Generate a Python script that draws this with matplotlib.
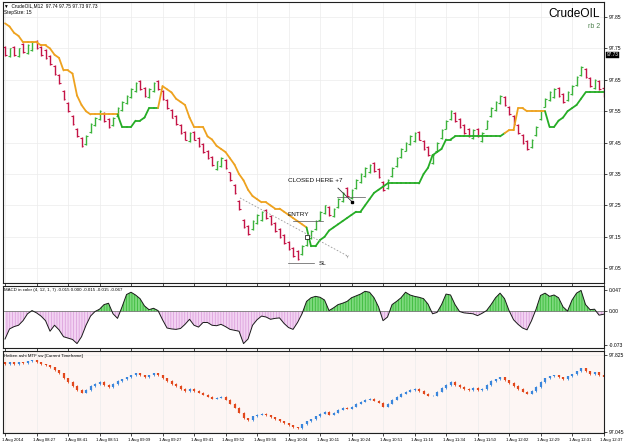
import matplotlib
matplotlib.use('Agg')
import matplotlib.pyplot as plt
from matplotlib.collections import LineCollection
from matplotlib.transforms import ScaledTranslation, blended_transform_factory

plt.rcParams['font.family'] = ['Liberation Sans', 'DejaVu Sans']

# ---------------- data ----------------
open0 = 97.75
closes = [
    97.73, 97.75, 97.73, 97.75, 97.74, 97.76, 97.77, 97.75, 97.73, 97.72,
    97.70, 97.67, 97.64, 97.59, 97.55, 97.51, 97.47, 97.44, 97.47, 97.51,
    97.53, 97.55, 97.52, 97.50, 97.53, 97.56, 97.58, 97.60, 97.62, 97.64,
    97.62, 97.60, 97.62, 97.64, 97.62, 97.59, 97.56, 97.53, 97.51, 97.48,
    97.46, 97.48, 97.46, 97.44, 97.42, 97.40, 97.38, 97.39, 97.40, 97.37,
    97.33, 97.29, 97.24, 97.18, 97.16, 97.20, 97.22, 97.23, 97.21, 97.19,
    97.17, 97.15, 97.13, 97.11, 97.09, 97.08, 97.12, 97.15, 97.17, 97.20,
    97.23, 97.25, 97.22, 97.24, 97.27, 97.29, 97.28, 97.30, 97.33, 97.35,
    97.37, 97.38, 97.36, 97.34, 97.30, 97.33, 97.37, 97.40, 97.43, 97.45,
    97.47, 97.48, 97.46, 97.43, 97.41, 97.41, 97.45, 97.49, 97.52, 97.55,
    97.52, 97.50, 97.48, 97.47, 97.49, 97.47, 97.48, 97.52, 97.56, 97.58,
    97.60, 97.57, 97.54, 97.51, 97.48, 97.45, 97.43, 97.46, 97.50, 97.55,
    97.59, 97.61, 97.62, 97.60, 97.58, 97.61, 97.63, 97.66, 97.69, 97.66,
    97.63, 97.65, 97.62, 97.60]

stop_line = [
    97.83, 97.82, 97.80, 97.79, 97.77, 97.77, 97.77, 97.77, 97.76, 97.76,
    97.75, 97.73, 97.72, 97.68, 97.68, 97.67, 97.60, 97.57, 97.55, 97.54,
    97.54, 97.54, 97.54, 97.54, 97.54, 97.54, 97.50, 97.50, 97.50, 97.52,
    97.52, 97.53, 97.56, 97.56, 97.56, 97.63, 97.62, 97.61, 97.59, 97.58,
    97.57, 97.53, 97.50, 97.50, 97.50, 97.47, 97.46, 97.44, 97.43, 97.42,
    97.40, 97.38, 97.35, 97.33, 97.30, 97.28, 97.27, 97.26, 97.26, 97.25,
    97.24, 97.24, 97.23, 97.22, 97.21, 97.20, 97.19, 97.18, 97.12, 97.12,
    97.14, 97.15, 97.17, 97.18, 97.19, 97.20, 97.21, 97.22, 97.23, 97.23,
    97.25, 97.27, 97.29, 97.30, 97.31, 97.32, 97.32, 97.32, 97.32, 97.32,
    97.32, 97.32, 97.32, 97.35, 97.37, 97.41, 97.42, 97.43, 97.46, 97.46,
    97.47, 97.47, 97.47, 97.47, 97.47, 97.47, 97.47, 97.47, 97.47, 97.47,
    97.47, 97.48, 97.49, 97.49, 97.56, 97.56, 97.55, 97.55, 97.55, 97.55,
    97.55, 97.50, 97.50, 97.52, 97.53, 97.55, 97.56, 97.57, 97.59, 97.61,
    97.61, 97.61, 97.61, 97.61]

# (trend, number of bars): -1 = down (orange), 1 = up (green)
trend_runs = [(-1, 26), (1, 9), (-1, 33), (1, 44), (-1, 9), (1, 13)]

macd = [
    -0.060, -0.038, -0.033, -0.030, -0.020, -0.005, 0.002, -0.003, -0.010, -0.020,
    -0.043, -0.030, -0.040, -0.055, -0.058, -0.061, -0.070, -0.055, -0.030, -0.010,
    0.000, 0.005, 0.015, 0.018, -0.005, -0.015, 0.010, 0.037, 0.042, 0.036,
    0.028, 0.012, 0.004, 0.007, 0.002, -0.018, -0.036, -0.038, -0.039, -0.037,
    -0.028, -0.017, -0.030, -0.034, -0.024, -0.024, -0.030, -0.031, -0.028, -0.033,
    -0.039, -0.041, -0.043, -0.070, -0.060, -0.030, -0.018, -0.010, -0.012, -0.017,
    -0.015, -0.014, -0.026, -0.035, -0.039, -0.024, -0.005, 0.022, 0.030, 0.033,
    0.031, 0.025, 0.002, 0.008, 0.015, 0.018, 0.022, 0.030, 0.034, 0.038,
    0.044, 0.042, 0.030, 0.010, -0.020, -0.012, 0.015, 0.022, 0.030, 0.042,
    0.036, 0.033, 0.031, 0.028, 0.016, -0.005, -0.002, 0.015, 0.038, 0.036,
    0.015, 0.000, -0.003, -0.004, -0.005, -0.009, -0.004, 0.002, 0.015, 0.030,
    0.040, 0.028, 0.002, -0.018, -0.028, -0.036, -0.040, -0.020, 0.005, 0.035,
    0.040, 0.033, 0.036, 0.030, 0.010, 0.001, 0.025, 0.040, 0.046, 0.015,
    0.004, 0.005, -0.008, -0.006]

time_labels = ['1 Aug 2014', '1 Aug 08:27', '1 Aug 08:41', '1 Aug 08:51', '1 Aug 09:09',
               '1 Aug 09:27', '1 Aug 09:41', '1 Aug 09:52', '1 Aug 09:56', '1 Aug 10:04',
               '1 Aug 10:11', '1 Aug 10:24', '1 Aug 10:51', '1 Aug 11:16', '1 Aug 11:34',
               '1 Aug 11:50', '1 Aug 12:02', '1 Aug 12:29', '1 Aug 12:31', '1 Aug 12:37']
time_label_bars = list(range(0, 134, 7))

price_ticks = [97.85, 97.75, 97.65, 97.55, 97.45, 97.35, 97.25, 97.15, 97.05]
last_price = 97.73
macd_ticks = [0.047, 0.0, -0.073]
macd_tick_labels = ['0.047', '0.00', '-0.073']
ha_ticks = [97.825, 97.045]

# ---------------- layout ----------------
W, H = 625, 446
fig = plt.figure(figsize=(W / 100, H / 100), dpi=100)
fig.patch.set_facecolor('white')


def rect(x0, y0, x1, y1):
    return [x0 / W, 1 - y1 / H, (x1 - x0) / W, (y1 - y0) / H]


ax = fig.add_axes(rect(3, 2, 604, 283))
ax2 = fig.add_axes(rect(3, 286, 604, 348))
ax3 = fig.add_axes(rect(3, 351, 604, 433))

N = len(closes)
xs = list(range(N))
XMIN, XMAX = -0.45, 133.1
GREEN_BAR = '#3cb33c'
RED_BAR = '#c41446'
ORANGE = '#eea21f'
GREEN_LINE = '#26ad26'

for a in (ax, ax2, ax3):
    a.set_xlim(XMIN, XMAX)
    a.yaxis.tick_right()
    a.tick_params(axis='y', labelsize=3.6, length=2, width=0.5, pad=1.5, colors='black')
    a.tick_params(axis='x', length=2, width=0.5)
    for s in a.spines.values():
        s.set_linewidth(0.8)
        s.set_color('#202020')
    a.set_xticks(time_label_bars)
    a.grid(True, color='#ececec', lw=0.5)
    a.set_axisbelow(True)

ax.set_xticklabels([])
ax2.set_xticklabels([])
ax2.grid(False)

# ---------------- main panel ----------------
ax.set_ylim(97.003, 97.898)
ax.set_yticks(price_ticks)
ax.set_yticklabels([f'{p:.2f}' for p in price_ticks])

RB = 0.025
for i, c in enumerate(closes):
    o = open0 if i == 0 else closes[i - 1]
    up = c >= o
    col = GREEN_BAR if up else RED_BAR
    lo, hi = (c - RB, c) if up else (c, c + RB)
    ax.vlines(i, lo - 0.003, hi + 0.003, color=col, lw=1.0)
    ax.hlines(lo if up else hi, i - 0.35, i, color=col, lw=0.8)
    ax.hlines(c, i, i + 0.35, color=col, lw=0.8)

trend = []
for t, n in trend_runs:
    trend += [t] * n
segs, cols = [], []
for i in range(1, N):
    segs.append([(i - 1, stop_line[i - 1]), (i, stop_line[i])])
    cols.append(GREEN_LINE if trend[i] == 1 else ORANGE)
ax.add_collection(LineCollection(segs, colors=cols, linewidths=1.3, capstyle='round'))

# annotations
ax.text(62.9, 97.328, 'CLOSED HERE +7', fontsize=4.6, color='#111111', va='center')
ax.plot([74.0, 77.1], [97.305, 97.262], color='#333333', lw=0.6)
ax.plot([77.1], [97.262], marker='s', ms=1.8, color='black')
ax.plot([73.8, 80.0], [97.277, 97.277], color='#555555', lw=0.5)
ax.text(62.7, 97.222, 'ENTRY', fontsize=4.6, color='#111111', va='center')
ax.plot([64.0, 70.7], [97.200, 97.200], color='#555555', lw=0.5)
ax.plot([67.2], [97.148], marker='s', ms=2.5, mfc='white', mec='black', mew=0.5)
ax.text(69.8, 97.066, 'SL', fontsize=4.6, color='#111111', va='center')
ax.plot([62.9, 68.7], [97.066, 97.066], color='#555555', lw=0.5)
ax.plot([52.2, 76.0], [97.274, 97.090], ls=(0, (2, 2)), color='#9a9a9a', lw=0.6)
ax.plot([76.0], [97.090], marker='1', ms=2.5, color='#9a9a9a', mew=0.4)

trans = blended_transform_factory(ax.transAxes, ax.transData)
ax.text(1.004, last_price, '97.73', transform=trans, fontsize=3.4, color='white',
        va='center', ha='left',
        bbox=dict(boxstyle='square,pad=0.15', fc='black', ec='black', lw=0.3))

fig.text(4 / W, 1 - 5.5 / H, '\u25bc  CrudeOIL,M12  97.74 97.75 97.73 97.73', fontsize=3.4,
         va='center', ha='left')
fig.text(4 / W, 1 - 12.5 / H, 'StepSize: 15', fontsize=3.4, va='center', ha='left')
fig.text(600 / W, 1 - 14 / H, 'CrudeOIL', fontsize=8.6, va='center', ha='right', color='black')
fig.text(600 / W, 1 - 27 / H, 'rb 2', fontsize=5.0, va='center', ha='right', color='#4b7f4b')

# ---------------- MACD panel ----------------
ax2.set_ylim(-0.0796, 0.0556)
ax2.set_yticks(macd_ticks)
ax2.set_yticklabels(macd_tick_labels)
plt.rcParams['hatch.linewidth'] = 0.5
ax2.fill_between(xs, 0, macd, where=[m >= 0 for m in macd], interpolate=True,
                 facecolor='#7dd97d', edgecolor='#2fb52f', hatch='||||||', lw=0)
ax2.fill_between(xs, 0, macd, where=[m <= 0 for m in macd], interpolate=True,
                 facecolor='#f2d2f2', edgecolor='#d99ad9', hatch='||||||', lw=0)
ax2.axhline(0, color='#777777', lw=0.6)
ax2.plot(xs, macd, color='#1a1a1a', lw=0.7)
fig.text(4 / W, 1 - 290 / H, 'MACD in color (4, 12, 1, 7) -0.015 0.000 -0.015 -0.015 -0.067',
         fontsize=3.2, va='center', ha='left')

# ---------------- Heiken Ashi panel ----------------
ax3.set_facecolor('#fdf6f4')
ax3.set_ylim(97.032, 97.866)
ax3.set_yticks(ha_ticks)
ax3.set_yticklabels(['97.825', '97.045'])
for i, c in enumerate(closes):
    o = open0 if i == 0 else closes[i - 1]
    col = '#3a86dc' if c >= o else '#e2481c'
    ax3.vlines(i, min(o, c) - 0.006, max(o, c) + 0.006, color=col, lw=0.6)
    ax3.vlines(i, min(o, c), max(o, c), color=col, lw=1.6)
ax3.set_xticklabels(time_labels)
ax3.tick_params(axis='x', labelsize=3.1, pad=1.5)
for lab in ax3.get_xticklabels():
    lab.set_horizontalalignment('left')
    lab.set_transform(lab.get_transform() + ScaledTranslation(-3.5 / 100, 0, fig.dpi_scale_trans))
fig.text(4 / W, 1 - 356 / H, 'Heiken ashi MTF sw [Current Timeframe]', fontsize=3.2,
         va='center', ha='left')

fig.savefig('out.png', dpi=100, facecolor='white')
